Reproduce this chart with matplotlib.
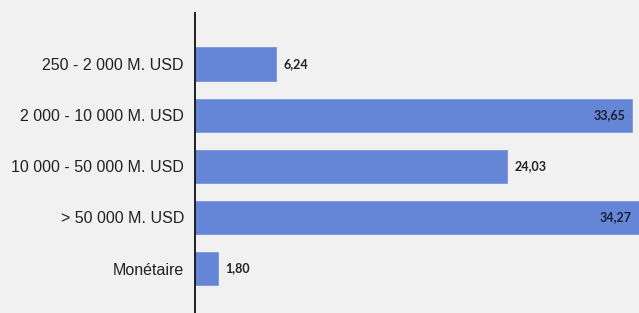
import matplotlib.pyplot as plt
import numpy as np

categories = ["250 - 2 000 M. USD", "2 000 - 10 000 M. USD", "10 000 - 50 000 M. USD",
              "> 50 000 M. USD", "Monétaire"]
values = [6.24, 33.65, 24.03, 34.27, 1.80]
value_labels = ["6,24", "33,65", "24,03", "34,27", "1,80"]
inside = [False, True, False, True, False]

bg = "#f1f1f1"
bar_color = "#6585d6"

fig = plt.figure(figsize=(6.39, 3.13), dpi=100, facecolor=bg)
ax = fig.add_axes([195 / 639, 0, 1 - 195 / 639, 1 - 13 / 313], facecolor=bg)

y = np.arange(len(categories))
ax.barh(y, values, height=0.65, color=bar_color, edgecolor="#7894da", linewidth=0.6)

xmax = 34.15
ax.set_xlim(0, xmax)
ax.set_ylim(4.87, -1.0)

for yi, v, lab, ins in zip(y, values, value_labels, inside):
    if ins:
        ax.annotate(lab, (min(v, xmax), yi), xytext=(-5, 0), textcoords="offset points",
                    ha="right", va="center", fontsize=9, fontweight="bold",
                    family="Lato", color="#1a1f33")
    else:
        ax.annotate(lab, (v, yi), xytext=(5, 0), textcoords="offset points",
                    ha="left", va="center", fontsize=9, fontweight="bold",
                    family="Lato", color="#222222")

ax.set_yticks(y)
ax.set_yticklabels(categories, fontsize=11.5, family="Liberation Sans", color="#222222")
ax.tick_params(axis="y", length=0, pad=8)
ax.set_xticks([])

for s in ["top", "right", "bottom"]:
    ax.spines[s].set_visible(False)
ax.spines["left"].set_linewidth(1.3)
ax.spines["left"].set_color("#111111")

fig.savefig("out.png", dpi=100, facecolor=bg)
